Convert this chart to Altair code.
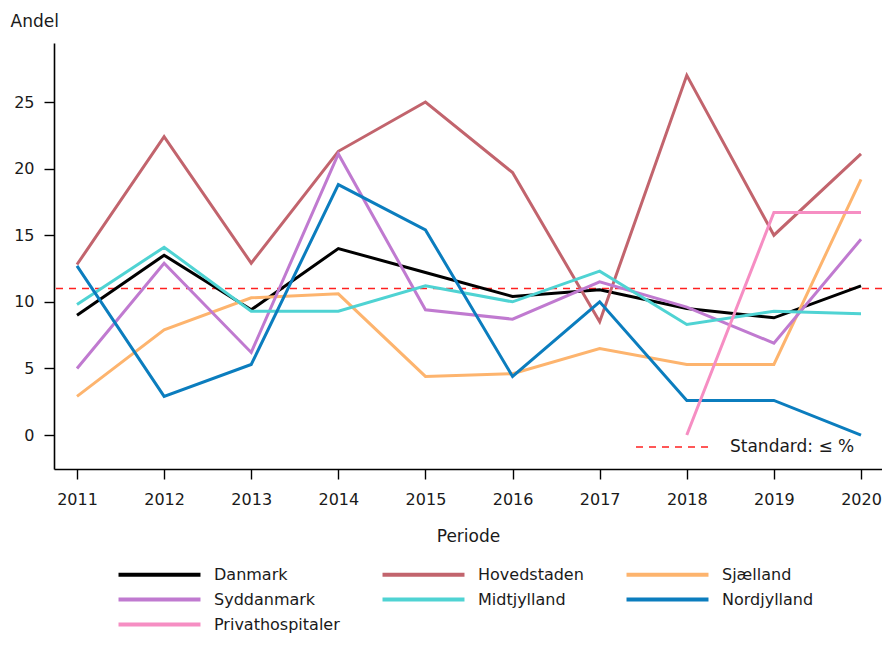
import altair as alt
import pandas as pd

years = list(range(2011, 2021))
series_names = ["Danmark", "Hovedstaden", "Sjælland", "Syddanmark",
                "Midtjylland", "Nordjylland", "Privathospitaler"]
series_colors = ["#000000", "#c2646d", "#fdb46e", "#c07ad0",
                 "#4fd3d3", "#0b7dbe", "#f68ec3"]

danmark = [9.0, 13.5, 9.4, 14.0, 12.2, 10.4, 10.9, 9.5, 8.8, 11.2]
hovedstaden = [12.8, 22.4, 12.9, 21.3, 25.0, 19.7, 8.5, 27.0, 15.0, 21.1]
sjaelland = [2.9, 7.9, 10.3, 10.6, 4.4, 4.6, 6.5, 5.3, 5.3, 19.2]
syddanmark = [5.0, 12.9, 6.2, 21.1, 9.4, 8.7, 11.5, 9.6, 6.9, 14.7]
midtjylland = [9.8, 14.1, 9.3, 9.3, 11.2, 10.0, 12.3, 8.3, 9.3, 9.1]
nordjylland = [12.7, 2.9, 5.3, 18.8, 15.4, 4.4, 10.0, 2.6, 2.6, 0.0]
privat_years = [2018, 2019, 2020]
privat = [0.0, 16.7, 16.7]
standard_value = [11.0]
standard_label = "Standard: ≤ %"

rows = []
for name, vals in zip(series_names[:6], [danmark, hovedstaden, sjaelland,
                                          syddanmark, midtjylland, nordjylland]):
    for y, v in zip(years, vals):
        rows.append({"Periode": y, "Andel": v, "Serie": name})
for y, v in zip(privat_years, privat):
    rows.append({"Periode": y, "Andel": v, "Serie": "Privathospitaler"})
df = pd.DataFrame(rows)
df["order"] = df["Serie"].map({n: i for i, n in enumerate(series_names)})

FONT = "DejaVu Sans"
TXT = "#1a1a1a"

x_scale = alt.Scale(domain=[2010.736, 2020.241], nice=False, zero=False)
y_scale = alt.Scale(domain=[-2.55, 29.43], nice=False, zero=False)

lines = alt.Chart(df).mark_line(strokeWidth=3, clip=True).encode(
    x=alt.X("Periode:Q", scale=x_scale,
            axis=alt.Axis(values=years, format="d", title="Periode",
                          labelFlush=False, labelOverlap=False,
                          labelPadding=12, titleY=72,
                          titleBaseline="alphabetic")),
    y=alt.Y("Andel:Q", scale=y_scale,
            axis=alt.Axis(values=[0, 5, 10, 15, 20, 25], title="Andel",
                          titleAngle=0, titleAlign="left", titleX=-44,
                          titleY=-17, titleBaseline="alphabetic",
                          labelPadding=10)),
    color=alt.Color("Serie:N",
                    scale=alt.Scale(domain=series_names, range=series_colors),
                    legend=alt.Legend(title=None, orient="none",
                                      legendX=93, legendY=519,
                                      direction="horizontal", columns=3,
                                      symbolType="M-4,0L4,0", symbolSize=420,
                                      symbolStrokeWidth=4, labelFont=FONT,
                                      labelFontSize=16, labelColor=TXT,
                                      labelOffset=42, columnPadding=34,
                                      rowPadding=4, padding=0)),
    detail="Serie:N",
    order=alt.Order("order:Q"),
)

std_df = pd.DataFrame({"Andel": standard_value})
std_rule = alt.Chart(std_df).mark_rule(color="#ff2020", strokeWidth=1.6,
                                       strokeDash=[7, 6]).encode(
    y=alt.Y("Andel:Q", scale=y_scale))

std_key = alt.Chart(std_df).mark_rule(color="#ff2020", strokeWidth=1.6,
                                      strokeDash=[7, 6]).encode(
    x=alt.value(582), x2=alt.value(656), y=alt.value(404))

std_text = alt.Chart(pd.DataFrame({"t": [standard_label]})).mark_text(
    align="left", baseline="middle", font=FONT, fontSize=17, color=TXT
).encode(x=alt.value(676), y=alt.value(404), text="t:N")

chart = alt.layer(std_rule, lines, std_key, std_text).properties(
    width=828, height=426,
    autosize=alt.AutoSizeParams(type="none"),
    padding={"left": 46, "top": 35, "right": 0, "bottom": 167},
).configure_view(stroke=None).configure_axis(
    grid=False, domainColor="#000", domainWidth=1.6, tickColor="#000",
    tickWidth=1.4, tickSize=10, labelFont=FONT, labelFontSize=16,
    labelColor=TXT, titleFont=FONT, titleFontSize=17, titleColor=TXT,
    titleFontWeight="normal",
)

chart.save("out.html", embed_options={"renderer": "svg", "actions": False})
